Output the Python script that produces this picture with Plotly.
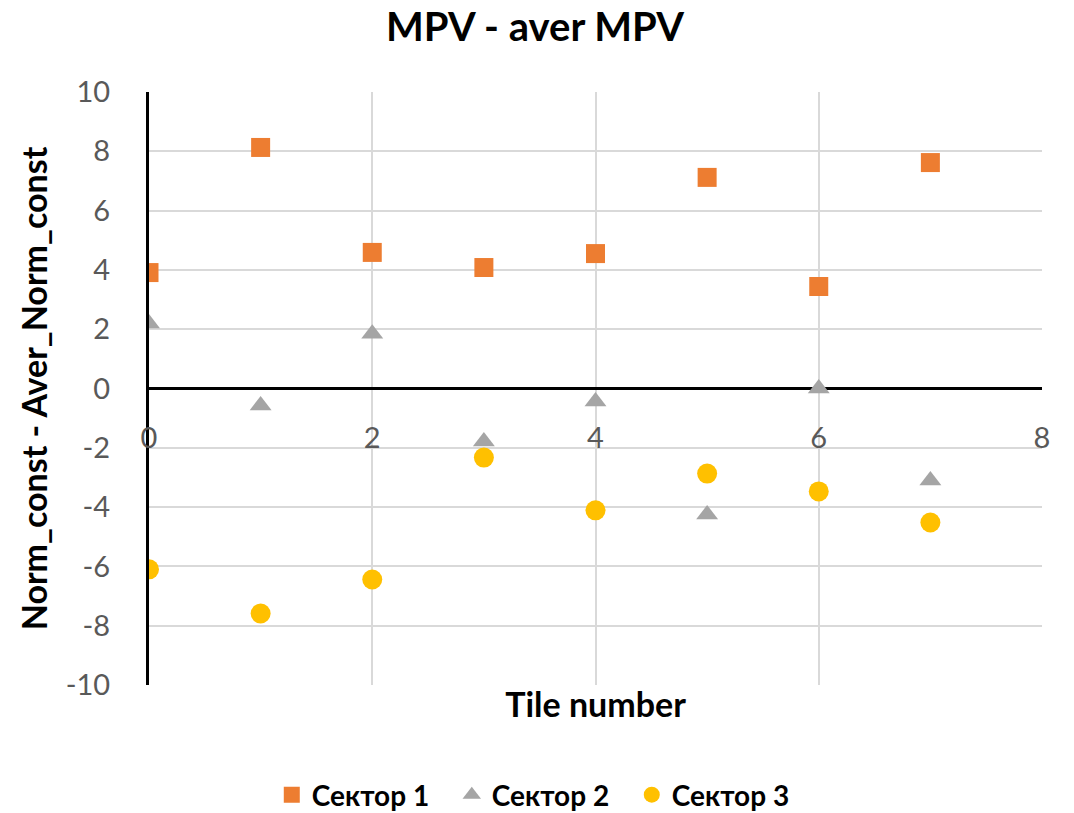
import plotly.graph_objects as go

tiles = [0, 1, 2, 3, 4, 5, 6, 7]
sector1 = [3.91, 8.13, 4.59, 4.08, 4.55, 7.12, 3.44, 7.62]
sector2 = [2.19, -0.57, 1.85, -1.79, -0.44, -4.25, 0.0, -3.10]
sector3 = [-6.10, -7.59, -6.44, -2.33, -4.11, -2.87, -3.47, -4.52]
names = ["Сектор 1", "Сектор 2", "Сектор 3"]
x_ticks = [0, 2, 4, 6, 8]
y_ticks = [-10, -8, -6, -4, -2, 0, 2, 4, 6, 8, 10]

FONT = "Lato"
fig = go.Figure()
fig.add_trace(go.Scatter(x=tiles, y=sector1, mode="markers", name="<b>" + names[0] + "</b>",
                         marker=dict(symbol="square", size=19, color="#ED7D31")))
fig.add_trace(go.Scatter(x=tiles, y=sector2, mode="markers", name="<b>" + names[1] + "</b>",
                         marker=dict(symbol="triangle-up", size=19, color="#A5A5A5")))
fig.add_trace(go.Scatter(x=tiles, y=sector3, mode="markers", name="<b>" + names[2] + "</b>",
                         marker=dict(symbol="circle", size=20, color="#FFC000")))
# invisible trace for the tick-label axis crossing at zero
fig.add_trace(go.Scatter(x=[0, 8], y=[0, 0], xaxis="x2", mode="markers",
                         marker=dict(opacity=0), showlegend=False, hoverinfo="skip"))

fig.update_layout(
    width=1074, height=813,
    paper_bgcolor="white", plot_bgcolor="white",
    margin=dict(l=141, r=40, t=84, b=136),
    font=dict(family=FONT, color="#595959"),
    xaxis=dict(range=[0, 8], tickvals=x_ticks, showticklabels=False,
               showgrid=True, gridcolor="#D9D9D9", gridwidth=1.5,
               zeroline=False, showline=False, automargin=False,
               title=dict(text="<b>Tile number</b>", font=dict(family=FONT, size=34, color="black"),
                          standoff=8)),
    xaxis2=dict(range=[0, 8], overlaying="x", anchor="free", position=0.5, side="bottom",
                tickvals=x_ticks, ticktext=[str(v) for v in x_ticks],
                showgrid=False, zeroline=False, showline=False, automargin=False,
                ticks="outside", ticklen=24, tickcolor="rgba(0,0,0,0)",
                tickfont=dict(family=FONT, size=29, color="#595959")),
    yaxis=dict(range=[-10, 10], tickvals=y_ticks, ticktext=[str(v) for v in y_ticks],
               showgrid=True, gridcolor="#D9D9D9", gridwidth=1.5,
               zeroline=True, zerolinecolor="black", zerolinewidth=2.5,
               showline=True, linecolor="black", linewidth=3, automargin=False,
               ticks="outside", ticklen=30, tickcolor="rgba(0,0,0,0)",
               tickfont=dict(family=FONT, size=29, color="#595959"),
               title=dict(text="<b>Norm_const - Aver_Norm_const</b>",
                          font=dict(family=FONT, size=34, color="black"), standoff=8)),
    legend=dict(orientation="h", xref="container", x=0.497, xanchor="center", yref="container",
                y=0.032, yanchor="middle", entrywidth=135, itemwidth=30,
                font=dict(family=FONT, size=28, color="black"), itemsizing="trace",
                traceorder="normal"),
)
fig.add_annotation(text="<b>MPV - aver MPV</b>", xref="paper", yref="paper",
                   x=0.432, y=1.0, yshift=66, xanchor="center", yanchor="middle",
                   showarrow=False, font=dict(family=FONT, size=40, color="black"))
fig.write_html("out.html")
